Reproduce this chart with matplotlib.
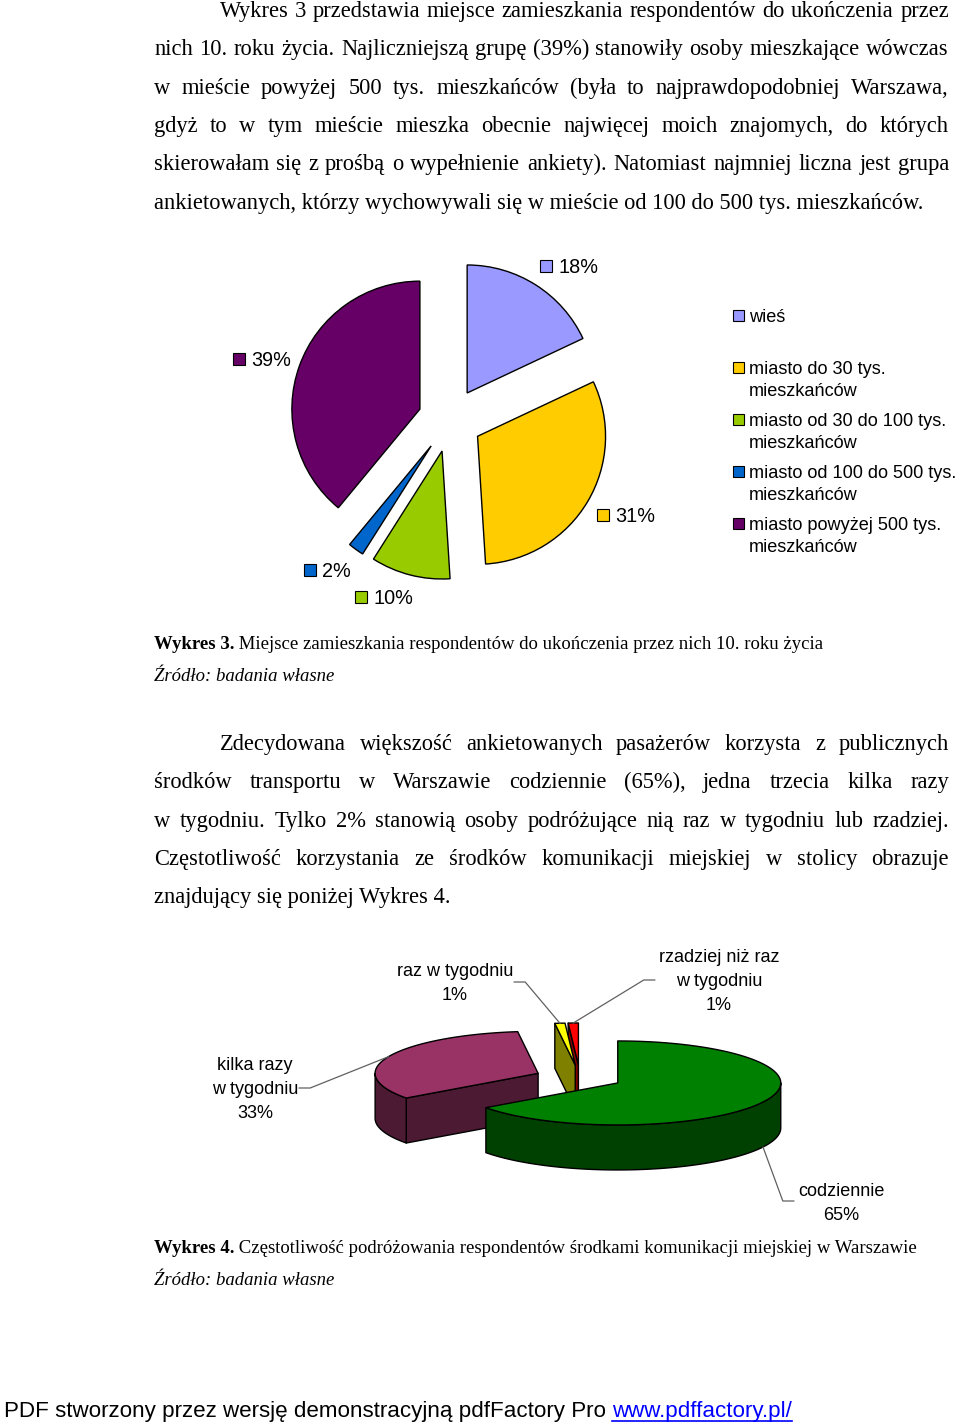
import matplotlib
matplotlib.use("Agg")
import matplotlib.pyplot as plt
import numpy as np
from matplotlib.patches import Polygon, Rectangle

# ---------------- data ----------------
pie1_categories = ["wieś", "miasto do 30 tys.\nmieszkańców", "miasto od 30 do 100 tys.\nmieszkańców",
                   "miasto od 100 do 500 tys.\nmieszkańców", "miasto powyżej 500 tys.\nmieszkańców"]
pie1_values = [18, 31, 10, 2, 39]
pie1_labels = ["18%", "31%", "10%", "2%", "39%"]

pie2_categories = ["codziennie", "kilka razy\nw tygodniu", "raz w tygodniu", "rzadziej niż raz\nw tygodniu"]
pie2_values = [65, 33, 1, 1]
pie2_labels = ["65%", "33%", "1%", "1%"]

paragraph1 = [
    "Wykres 3 przedstawia miejsce zamieszkania respondentów do ukończenia przez",
    "nich 10. roku życia. Najliczniejszą grupę (39%) stanowiły osoby mieszkające wówczas",
    "w mieście powyżej 500 tys. mieszkańców (była to najprawdopodobniej Warszawa,",
    "gdyż to w tym mieście mieszka obecnie najwięcej moich znajomych, do których",
    "skierowałam się z prośbą o wypełnienie ankiety). Natomiast najmniej liczna jest grupa",
    "ankietowanych, którzy wychowywali się w mieście od 100 do 500 tys. mieszkańców.",
]
paragraph2 = [
    "Zdecydowana większość ankietowanych pasażerów korzysta z publicznych",
    "środków transportu w Warszawie codziennie (65%), jedna trzecia kilka razy",
    "w tygodniu. Tylko 2% stanowią osoby podróżujące nią raz w tygodniu lub rzadziej.",
    "Częstotliwość korzystania ze środków komunikacji miejskiej w stolicy obrazuje",
    "znajdujący się poniżej Wykres 4.",
]
caption1 = ("Wykres 3.", " Miejsce zamieszkania respondentów do ukończenia przez nich 10. roku życia")
caption2 = ("Wykres 4.", " Częstotliwość podróżowania respondentów środkami komunikacji miejskiej w Warszawie")
source_text = "Źródło: badania własne"
footer_text = "PDF stworzony przez wersję demonstracyjną pdfFactory Pro "
footer_link = "www.pdffactory.pl/"

# ---------------- styles / layout ----------------
pie1_colors = ["#9999FF", "#FFCC00", "#99CC00", "#0066CC", "#660066"]
pie1_label_pos = [(569, 266), (626, 515), (384, 597), (327, 570), (262, 359)]
pie2_top = ["#008000", "#993366", "#FFFF00", "#FF0000"]
pie2_side = ["#004000", "#4D1A33", "#808000", "#800000"]
pie2_explode = [0.26, 0.28, 0.31, 0.31]
pie2_label_pos = [(841, 1201), (255, 1088), (455, 982), (719, 980)]

SERIF = "Liberation Serif"
SANS = "Liberation Sans"
W, H = 960, 1424

fig = plt.figure(figsize=(W / 100, H / 100), dpi=100)
fig.patch.set_facecolor("white")
bg = fig.add_axes([0, 0, 1, 1])
bg.set_xlim(0, W)
bg.set_ylim(H, 0)
bg.axis("off")
renderer = fig.canvas.get_renderer()


def px_axes(x0, y0, w, h):
    return fig.add_axes([x0 / W, 1 - (y0 + h) / H, w / W, h / H])


def tw(s, size, family, weight="normal", style="normal"):
    t = bg.text(0, 0, s, fontsize=size, family=family, weight=weight, style=style)
    w = t.get_window_extent(renderer).width
    t.remove()
    return w


def draw_line(s, y, x0, x1, justify, size, family=SERIF):
    if not justify:
        bg.text(x0, y, s, fontsize=size, family=family, va="baseline", ha="left")
        return
    words = s.split(" ")
    widths = [tw(w, size, family) for w in words]
    gap = (x1 - x0 - sum(widths)) / (len(words) - 1)
    x = x0
    for w, wd in zip(words, widths):
        bg.text(x, y, w, fontsize=size, family=family, va="baseline", ha="left")
        x += wd + gap


# body size fitted to the unjustified last line of paragraph 1
body_size = 12 * (922 - 154) / tw(paragraph1[-1], 12, SERIF)
LINE = 38.3
LEFT, RIGHT, INDENT = 154, 949, 220


def paragraph(lines, y0):
    for i, s in enumerate(lines):
        x0 = INDENT if i == 0 else LEFT
        draw_line(s, y0 + i * LINE, x0, RIGHT, i < len(lines) - 1, body_size)


paragraph(paragraph1, 17)
paragraph(paragraph2, 750)

# captions
cap_size = 12 * 666 / (tw(caption1[0], 12, SERIF, weight="bold") + tw(caption1[1], 12, SERIF))


def caption(cap, y):
    bg.text(LEFT, y, cap[0], fontsize=cap_size, family=SERIF, weight="bold", va="baseline")
    wb = tw(cap[0], cap_size, SERIF, weight="bold")
    bg.text(LEFT + wb, y, cap[1], fontsize=cap_size, family=SERIF, va="baseline")
    bg.text(LEFT, y + 32, source_text, fontsize=cap_size, family=SERIF, style="italic", va="baseline")


caption(caption1, 649)
caption(caption2, 1253)

# footer
foot_size = 12 * (793 - 4) / (tw(footer_text, 12, SANS) + tw(footer_link, 12, SANS))
bg.text(4, 1417, footer_text, fontsize=foot_size, family=SANS, va="baseline")
wf = tw(footer_text, foot_size, SANS)
wl = tw(footer_link, foot_size, SANS)
bg.text(4 + wf, 1417, footer_link, fontsize=foot_size, family=SANS, color="#0000FF", va="baseline")
bg.plot([4 + wf, 4 + wf + wl], [1421, 1421], color="#0000FF", lw=1.2)

# ---------------- pie 1 (exploded 2D) ----------------
P1_CX, P1_CY, P1_R = 450, 420, 128
ax1 = px_axes(P1_CX - 200, P1_CY - 200, 400, 400)
ax1.pie(pie1_values, colors=pie1_colors, explode=[0.25] * len(pie1_values), startangle=90,
        counterclock=False, radius=1, wedgeprops=dict(edgecolor="black", linewidth=1.0))
lim = 200 / P1_R
ax1.set_xlim(-lim, lim)
ax1.set_ylim(-lim, lim)
ax1.set_aspect("equal")
ax1.axis("off")

SQ = 12
lab_size = 14.3
for lab, col, (cx, cy) in zip(pie1_labels, pie1_colors, pie1_label_pos):
    w = tw(lab, lab_size, SANS)
    bw = SQ + 6 + w
    left = cx - bw / 2
    bg.add_patch(Rectangle((left, cy - SQ / 2), SQ, SQ, facecolor=col, edgecolor="black", lw=0.8))
    bg.text(left + SQ + 6, cy + 7, lab, fontsize=lab_size, family=SANS, va="baseline")

# legend
leg_size = 13.1
for i, (cat, col) in enumerate(zip(pie1_categories, pie1_colors)):
    yc = 315 + 52 * i
    bg.add_patch(Rectangle((733, yc - 11 / 2), 11, 11, facecolor=col, edgecolor="black", lw=0.8))
    for j, line in enumerate(cat.split("\n")):
        bg.text(749, yc + 6.5 + 22 * j, line, fontsize=leg_size, family=SANS, va="baseline")

# ---------------- pie 2 (3D look) ----------------
CX, CY, A, B, DEPTH = 580, 1078, 163, 42, 45
tot2 = sum(pie2_values)


def rim(tip, t):
    t = np.radians(t)
    return np.array([tip[0] + A * np.sin(t), tip[1] - B * np.cos(t)])


def arc(tip, t1, t2, dz=0.0):
    n = max(2, int(abs(t2 - t1)) + 2)
    t = np.radians(np.linspace(t1, t2, n))
    return np.column_stack([tip[0] + A * np.sin(t), tip[1] - B * np.cos(t) + dz])


slices = []
cum = 0
for i, v in enumerate(pie2_values):
    t1 = 360 * cum / tot2
    t2 = 360 * (cum + v) / tot2
    cum += v
    mid = (t1 + t2) / 2
    e = pie2_explode[i]
    tip = np.array([CX + e * A * np.sin(np.radians(mid)), CY - e * B * np.cos(np.radians(mid))])
    slices.append((i, t1, t2, mid, tip))

order = sorted(slices, key=lambda s: -np.cos(np.radians(s[3])))
z = 2
D = np.array([0, DEPTH])
for i, t1, t2, mid, tip in order:
    top, side = pie2_top[i], pie2_side[i]
    kw = dict(edgecolor="black", lw=1.0, joinstyle="round")
    if np.sin(np.radians(t1)) < -1e-9:
        r = rim(tip, t1)
        bg.add_patch(Polygon([tip, r, r + D, tip + D], facecolor=side, zorder=z, **kw))
    if np.sin(np.radians(t2)) > 1e-9:
        r = rim(tip, t2)
        bg.add_patch(Polygon([tip, r, r + D, tip + D], facecolor=side, zorder=z, **kw))
    lo, hi = max(t1, 90), min(t2, 270)
    if hi > lo:
        pts = np.vstack([arc(tip, lo, hi), arc(tip, hi, lo, DEPTH)])
        bg.add_patch(Polygon(pts, facecolor=side, zorder=z + 0.1, **kw))
    pts = np.vstack([[tip], arc(tip, t1, t2)])
    bg.add_patch(Polygon(pts, facecolor=top, zorder=z + 0.2, **kw))
    z += 1

# labels + leader lines
p2_size = 13
for i, t1, t2, mid, tip in slices:
    lines = (pie2_categories[i] + "\n" + pie2_labels[i]).split("\n")
    lx, ly = pie2_label_pos[i]
    n = len(lines)
    wmax = 0
    for j, line in enumerate(lines):
        yc = ly + (j - (n - 1) / 2) * 24
        bg.text(lx, yc + 6.5, line, fontsize=p2_size, family=SANS, ha="center", va="baseline")
        wmax = max(wmax, tw(line, p2_size, SANS))
    front = np.cos(np.radians(mid)) < 0
    p = rim(tip, mid) + (D if front else 0)
    if p[0] > lx:
        x_edge = lx + wmax / 2 + 1
        elbow = x_edge + 11
    else:
        x_edge = lx - wmax / 2 - 4
        elbow = x_edge - 11
    bg.plot([x_edge, elbow, p[0]], [ly, ly, p[1]], color="#606060", lw=0.9, zorder=20)

fig.savefig("out.png", dpi=100, facecolor="white")
